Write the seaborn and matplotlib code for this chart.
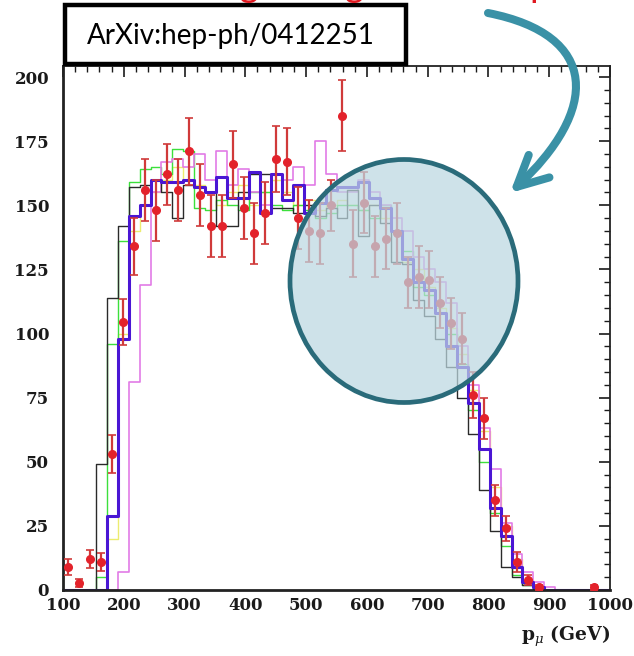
import numpy as np
import pandas as pd
import matplotlib
matplotlib.use("Agg")
import matplotlib.pyplot as plt
import seaborn as sns
from matplotlib.patches import Ellipse, Rectangle, FancyArrowPatch
from matplotlib.path import Path
from matplotlib.ticker import MultipleLocator

# 50 bins of 18 GeV between 100 and 1000 GeV
bin_lo, bin_hi, bin_w = 100, 1000, 18
centers = np.arange(bin_lo + bin_w / 2, bin_hi, bin_w)

data_vals = [9, 2.7, 12, 11, 53, 104.5, 134, 156, 148, 162,
             156, 171, 154, 142, 142, 166, 149, 139, 147, 168,
             167, 145, 140, 139, 150, 185, 135, 151, 134, 137,
             139, 120, 122, 121, 112, 104, 98, 76, 67, 35,
             24, 11, 4, 1, 0, 0, 0, 0, 1, 0]
data_err = [3, 1.5, 3.5, 3.5, 7.5, 9, 11, 12, 12, 12,
            12, 13, 12, 12, 12, 13, 12, 12, 12, 13,
            13, 12, 12, 12, 10, 14, 13, 12, 12, 12,
            12, 10, 12, 11, 10, 10, 10, 9, 8, 6,
            5, 4, 2, 1, 0, 0, 0, 0, 1, 0]

blue_vals = [0, 0, 0, 0, 29, 98, 146, 150, 160, 159,
             159, 160, 157, 155, 161, 153, 153, 163, 147, 162,
             152, 158, 147, 151, 156, 157, 157, 159, 153, 149,
             140, 129, 120, 117, 108, 95, 87, 73, 55, 32,
             21, 9, 3, 1, 0, 0, 0, 0, 0, 0]
black_vals = [0, 0, 0, 49, 114, 142, 157, 158, 160, 155,
              145, 158, 157, 155, 142, 142, 155, 162, 162, 149,
              149, 147, 150, 146, 149, 145, 156, 138, 150, 143,
              128, 127, 113, 107, 98, 87, 75, 61, 39, 23,
              9, 5, 2, 0, 0, 0, 0, 0, 0, 0]
green_vals = [0, 0, 0, 5, 96, 136, 159, 164, 165, 162,
              172, 171, 149, 148, 152, 150, 148, 155, 155, 150,
              148, 150, 148, 145, 147, 150, 150, 148, 145, 150,
              140, 132, 118, 115, 108, 100, 88, 70, 50, 30,
              17, 6, 2, 0, 0, 0, 0, 0, 0, 0]
yellow_vals = [0, 0, 0, 0, 20, 100, 140, 150, 155, 160,
               165, 160, 158, 155, 150, 155, 158, 150, 155, 160,
               155, 150, 152, 148, 150, 152, 150, 148, 150, 145,
               140, 128, 125, 118, 110, 102, 92, 78, 62, 40,
               25, 12, 4, 1, 0, 0, 0, 0, 0, 0]
pink_vals = [0, 0, 0, 0, 0, 7, 81, 119, 155, 167,
             168, 165, 170, 160, 171, 158, 164, 155, 150, 162,
             160, 165, 158, 175, 162, 155, 155, 160, 155, 150,
             145, 140, 130, 125, 120, 112, 95, 80, 63, 47,
             26, 14, 7, 3, 1, 0, 0, 0, 0, 0]

x_ticks = [100, 200, 300, 400, 500, 600, 700, 800, 900, 1000]
y_ticks = [0, 25, 50, 75, 100, 125, 150, 175, 200]
ref_label = "ArXiv:hep-ph/0412251"
slide_title = "Big change at the top"

sns.set_theme(style="white")
plt.rcParams["font.family"] = ["DejaVu Serif"]
plt.rcParams["mathtext.fontset"] = "dejavuserif"

W, H = 634, 656
fig = plt.figure(figsize=(W / 100, H / 100), dpi=100)
fig.patch.set_facecolor("white")
ax = fig.add_axes([63 / W, (H - 590) / H, 547 / W, 524 / H])
ax.set_facecolor("white")

series = [
    (yellow_vals, "#ecec70", 1.0),
    (green_vals, "#3ce03c", 1.0),
    (pink_vals, "#e27be6", 1.2),
    (black_vals, "#2a2a2a", 1.0),
    (blue_vals, "#4a16d4", 2.2),
]
for vals, col, lw in series:
    df = pd.DataFrame({"pt": centers, "n": np.asarray(vals, dtype=float)})
    sns.histplot(data=df, x="pt", weights="n", binwidth=bin_w,
                 binrange=(bin_lo, bin_hi), element="step",
                 fill=False, color=col, linewidth=lw, ax=ax)

# empty data bins are not drawn (ROOT style)
pts_df = pd.DataFrame({"pt": centers, "n": data_vals, "err": data_err})
pts_df = pts_df[pts_df["n"] > 0]
ax.errorbar(pts_df["pt"], pts_df["n"], yerr=pts_df["err"], fmt="o", color="#e3222b",
            ecolor="#d03a3a", ms=5.5, elinewidth=1.6, capsize=3, capthick=1.2,
            zorder=6)

ax.set_xlim(100, 1000)
ax.set_ylim(0, 204.3)
ax.set_xticks(x_ticks)
ax.set_yticks(y_ticks)
ax.xaxis.set_minor_locator(MultipleLocator(20))
ax.yaxis.set_minor_locator(MultipleLocator(5))
ax.tick_params(which="both", direction="in", top=True, right=True, colors="#1a1a1a")
ax.tick_params(which="major", length=8, width=1.2)
ax.tick_params(which="minor", length=4, width=1.0)
ax.tick_params(axis="y", pad=10, labelsize=12)
ax.tick_params(axis="x", pad=5, labelsize=12)
for lab in ax.get_xticklabels() + ax.get_yticklabels():
    lab.set_fontweight("bold")
    lab.set_color("#1a1a1a")
for s in ax.spines.values():
    s.set_color("#222222")
    s.set_linewidth(1.3)
ax.spines["left"].set_linewidth(2)
ax.spines["bottom"].set_linewidth(2)

ax.set_ylabel("")
ax.set_xlabel(r"$\mathbf{p}_{\mu}$ (GeV)", loc="right", fontsize=13.5,
              fontweight="bold", color="#1a1a1a", labelpad=7)


def fx(px):
    return px / W


def fy(py):
    return 1 - py / H


# shaded circle highlighting the falling edge
circle = Ellipse((fx(404), fy(281)), 228 / W, 243 / H, transform=fig.transFigure,
                 facecolor="#bcd8e1", alpha=0.72, edgecolor="none", zorder=5)
fig.add_artist(circle)
ring = Ellipse((fx(404), fy(281)), 228 / W, 243 / H, transform=fig.transFigure,
               facecolor="none", edgecolor="#2a6b7a", linewidth=3.4, zorder=6)
fig.add_artist(ring)

# reference box
box = Rectangle((fx(65), fy(64)), 341 / W, 59 / H, transform=fig.transFigure,
                facecolor="white", edgecolor="black", linewidth=3.2, zorder=7)
fig.add_artist(box)
fig.text(fx(87), fy(36), ref_label, fontsize=20, family="Lato",
         va="center", ha="left", color="black", zorder=8)

# curved arrow
pts = [(488, 13), (600, 35), (600, 110), (510, 193)]
arrow_path = Path([(fx(x), fy(y)) for x, y in pts],
                  [Path.MOVETO, Path.CURVE4, Path.CURVE4, Path.CURVE4])
arrow = FancyArrowPatch(path=arrow_path, transform=fig.transFigure,
                        arrowstyle="->,head_length=1.1,head_width=0.55",
                        mutation_scale=20, color="#3a91a6", linewidth=5.8,
                        capstyle="round", joinstyle="round", zorder=8)
fig.add_artist(arrow)

# slide title, mostly cut off at the top edge
fig.text(fx(207), 1 + 3 / H, slide_title, fontsize=26.5, family="Lato",
         color="#e01820", va="baseline", ha="left", zorder=8)

fig.savefig("out.png", dpi=100)
